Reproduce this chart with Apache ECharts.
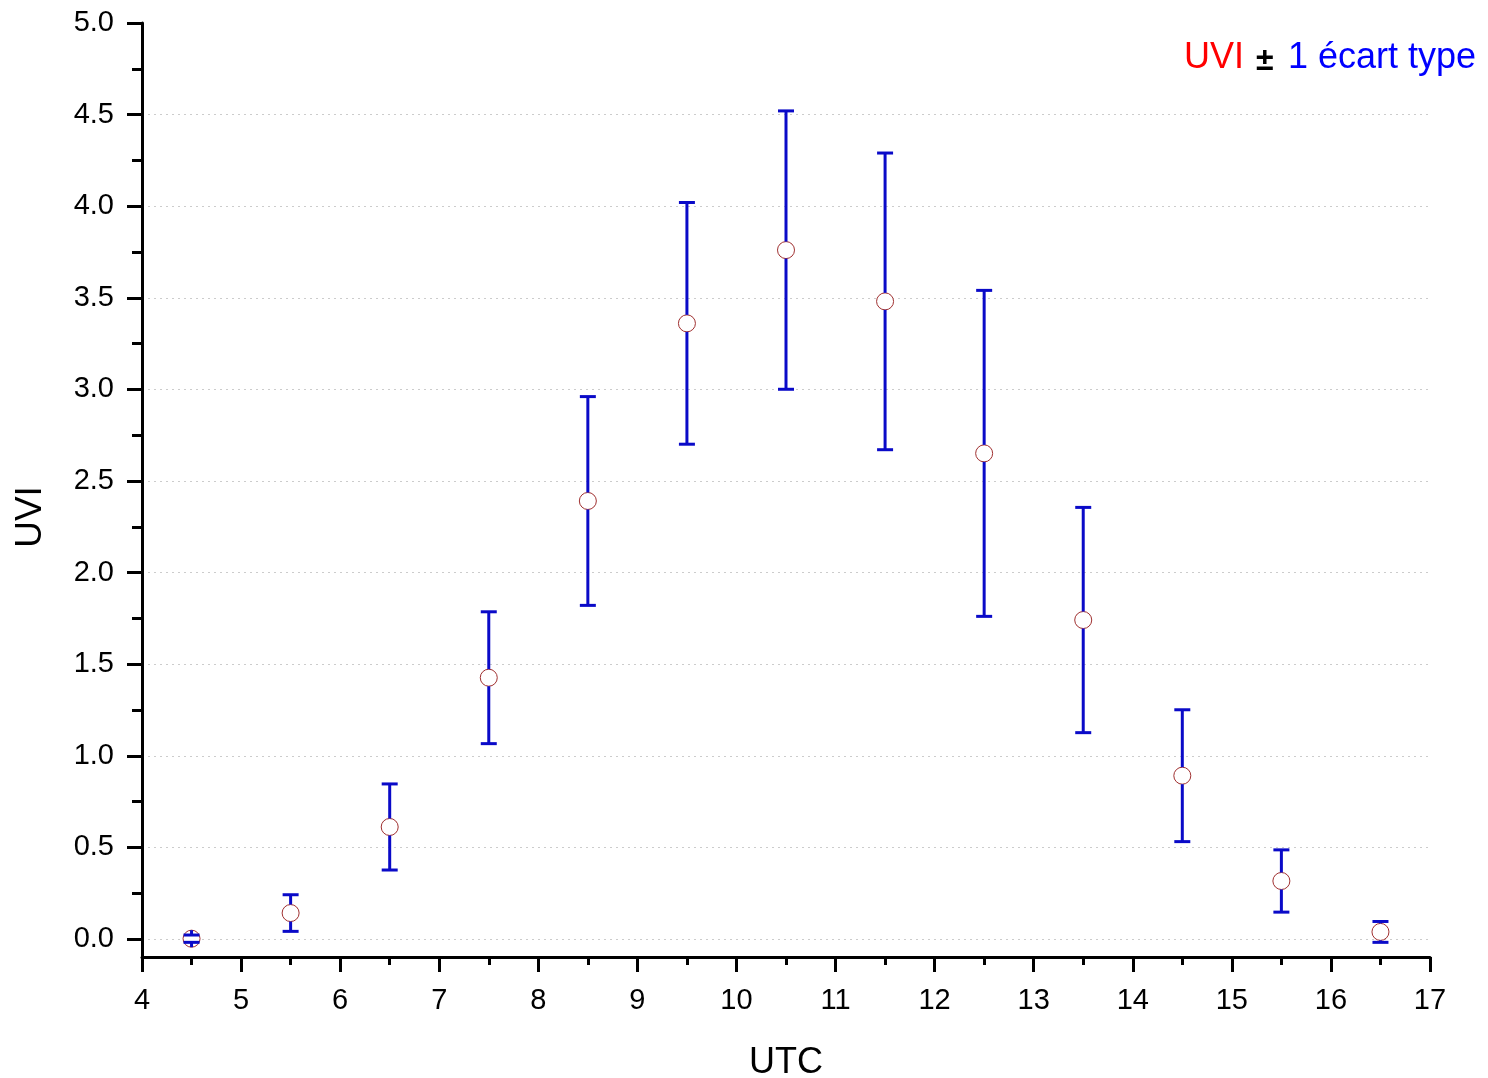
<!DOCTYPE html>
<html>
<head>
<meta charset="utf-8">
<title>UVI</title>
<script src="https://cdn.jsdelivr.net/npm/echarts@6/dist/echarts.min.js"></script>
<style>
  html, body { margin: 0; padding: 0; background: #fff; }
  #main { width: 1488px; height: 1078px; }
</style>
</head>
<body>
<div id="main"></div>
<script>
// heures UTC (milieu de chaque tranche horaire)
var hours = [4.5, 5.5, 6.5, 7.5, 8.5, 9.5, 10.5, 11.5, 12.5, 13.5, 14.5, 15.5, 16.5];
// UVI moyen
var uvi = [0.0, 0.14, 0.61, 1.425, 2.39, 3.36, 3.76, 3.48, 2.65, 1.74, 0.89, 0.315, 0.037];
// 1 ecart type
var ecart = [0.02, 0.10, 0.235, 0.36, 0.57, 0.66, 0.76, 0.81, 0.89, 0.615, 0.36, 0.17, 0.057];

var font = "'Liberation Sans', Arial, sans-serif";
var barColor = '#0a0ac8';
var markerSize = 17;

var points = hours.map(function (h, i) { return [h, uvi[i]]; });
// [x, bas, haut, moyenne]
var bars = hours.map(function (h, i) { return [h, uvi[i] - ecart[i], uvi[i] + ecart[i], uvi[i]]; });

var chart = echarts.init(document.getElementById('main'));

var option = {
  backgroundColor: '#fff',
  animation: false,
  textStyle: { fontFamily: font },
  grid: [
    // grille principale : axes et points (y de -0.1 a 5)
    { left: 142, right: 58, top: 23, bottom: 121, outerBoundsMode: 'none' },
    // grille des graduations y (0 a 5), superposee
    { left: 142, right: 58, top: 23, bottom: 139, outerBoundsMode: 'none' }
  ],
  xAxis: [
    {
      gridIndex: 0,
      type: 'value',
      min: 4,
      max: 17,
      interval: 1,
      name: 'UTC',
      nameLocation: 'middle',
      nameGap: 88,
      nameTextStyle: { fontSize: 36, color: '#000', fontFamily: font },
      axisLine: { show: true, onZero: false, lineStyle: { color: '#000', width: 3 } },
      axisTick: { show: true, inside: false, length: 15, lineStyle: { color: '#000', width: 3 } },
      minorTick: { show: true, splitNumber: 2, length: 8, lineStyle: { color: '#000', width: 3 } },
      axisLabel: { fontSize: 29, color: '#000', margin: 29, fontFamily: font },
      splitLine: { show: false }
    },
    {
      gridIndex: 1,
      type: 'value',
      min: 4,
      max: 17,
      show: false
    }
  ],
  yAxis: [
    {
      gridIndex: 0,
      type: 'value',
      min: -0.1,
      max: 5,
      axisLine: { show: true, onZero: false, lineStyle: { color: '#000', width: 3 } },
      axisTick: { show: false },
      axisLabel: { show: false },
      splitLine: { show: false }
    },
    {
      gridIndex: 1,
      type: 'value',
      min: 0,
      max: 5,
      interval: 0.5,
      axisLine: { show: false, onZero: false },
      axisTick: { show: true, inside: false, length: 15, lineStyle: { color: '#000', width: 3 } },
      minorTick: { show: true, splitNumber: 2, length: 10, lineStyle: { color: '#000', width: 3 } },
      axisLabel: {
        fontSize: 29,
        color: '#000',
        margin: 28,
        fontFamily: font,
        formatter: function (v) { return v.toFixed(1); }
      },
      splitLine: {
        show: true,
        showMaxLine: false,
        lineStyle: { color: '#cccccc', width: 1, type: [2, 4] }
      }
    }
  ],
  graphic: [
    {
      type: 'text',
      x: 31,
      y: 517,
      rotation: Math.PI / 2,
      style: {
        text: 'UVI',
        fontSize: 37,
        fontFamily: font,
        fill: '#000',
        align: 'center',
        verticalAlign: 'middle'
      }
    },
    // legende "UVI ± 1 ecart type"
    {
      type: 'text',
      x: 1184,
      y: 58,
      style: { text: 'UVI', fontSize: 36, fontFamily: font, fill: '#ff0000', verticalAlign: 'middle' }
    },
    {
      type: 'text',
      x: 1256,
      y: 61,
      style: { text: '±', fontSize: 32, fontWeight: 'bold', fontFamily: font, fill: '#000', verticalAlign: 'middle' }
    },
    {
      type: 'text',
      x: 1288,
      y: 58,
      style: { text: '1 écart type', fontSize: 36, fontFamily: font, fill: '#0000ff', verticalAlign: 'middle' }
    }
  ],
  series: [
    {
      type: 'scatter',
      xAxisIndex: 0,
      yAxisIndex: 0,
      data: points,
      symbol: 'circle',
      symbolSize: markerSize,
      itemStyle: { color: '#fff', borderColor: '#a03030', borderWidth: 1, opacity: 1 },
      z: 2
    },
    {
      // barres d'erreur +/- 1 ecart type, du bord du cercle jusqu'au trait
      type: 'custom',
      xAxisIndex: 0,
      yAxisIndex: 0,
      clip: false,
      data: bars,
      renderItem: function (params, api) {
        var x = api.value(0);
        var lo = api.coord([x, api.value(1)]);
        var hi = api.coord([x, api.value(2)]);
        var c = api.coord([x, api.value(3)]);
        var r = markerSize / 2;
        var cap = 8;
        var style = { stroke: barColor, lineWidth: 3 };
        return {
          type: 'group',
          children: [
            { type: 'line', shape: { x1: c[0], y1: c[1] - r, x2: hi[0], y2: hi[1] }, style: style },
            { type: 'line', shape: { x1: c[0], y1: c[1] + r, x2: lo[0], y2: lo[1] }, style: style },
            { type: 'line', shape: { x1: hi[0] - cap, y1: hi[1], x2: hi[0] + cap, y2: hi[1] }, style: style },
            { type: 'line', shape: { x1: lo[0] - cap, y1: lo[1], x2: lo[0] + cap, y2: lo[1] }, style: style }
          ]
        };
      },
      z: 3
    }
  ]
};

chart.setOption(option);
</script>
</body>
</html>
